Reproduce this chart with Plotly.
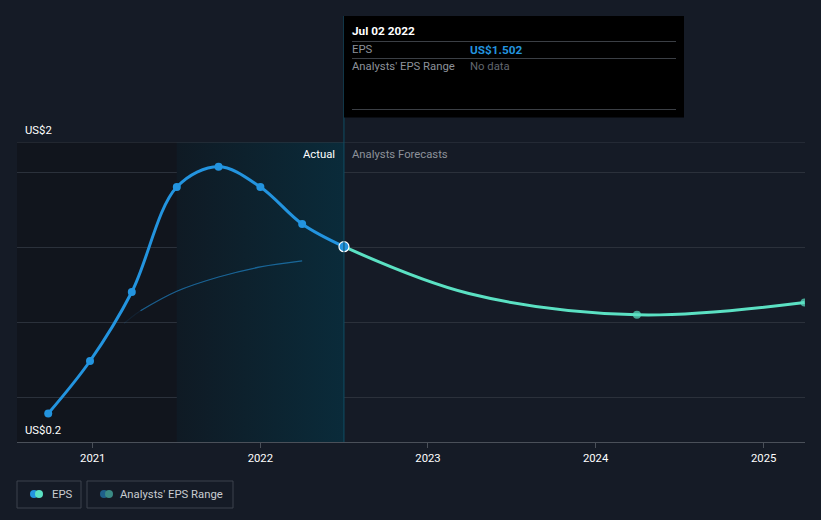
import plotly.graph_objects as go

# ---- data ----
actual_dates = ["2020-09-26", "2020-12-26", "2021-03-27", "2021-07-03",
                "2021-10-02", "2022-01-01", "2022-04-02", "2022-07-02"]
actual_eps = [0.39, 0.74, 1.20, 1.90, 2.035, 1.90, 1.653, 1.502]

forecast_dates = ["2022-07-02", "2023-03-31", "2024-03-31", "2025-03-31"]
forecast_eps = [1.502, 1.19, 1.048, 1.13]
forecast_marker = [0, 0, 8, 8]

past_est_dates = ["2021-03-10", "2021-04-15", "2021-07-03", "2021-10-02", "2022-01-01", "2022-04-02"]
past_est_eps = [0.99, 1.075, 1.205, 1.30, 1.367, 1.407]

x_range = ["2020-07-20", "2025-04-01"]
y_range = [0.2, 2.2]
grid_vals = [0.5, 1.0, 1.5, 2.0]
tick_years = ["2021-01-01", "2022-01-01", "2023-01-01", "2024-01-01", "2025-01-01"]
tick_text = ["2021", "2022", "2023", "2024", "2025"]
shade_start = "2021-07-03"
today = "2022-07-02"

BG = "#151b26"
BLUE = "#2394df"
TEAL = "#5be1c3"
FONT = "Roboto"
FS = 11.3

fig = go.Figure()

# dark past region
fig.add_shape(type="rect", xref="x", yref="y", x0=x_range[0], x1=shade_start,
              y0=y_range[0], y1=y_range[1], fillcolor="#11151d", line_width=0, layer="below")

# gradient shaded region
fig.add_trace(go.Scatter(
    x=[shade_start, today, today, shade_start, shade_start],
    y=[y_range[0], y_range[0], y_range[1], y_range[1], y_range[0]],
    mode="lines", line=dict(width=0), fill="toself",
    fillgradient=dict(type="horizontal",
                      colorscale=[[0, "#0f1a24"], [1, "#0a2b3a"]]),
    hoverinfo="skip", showlegend=False))

# past estimates faint line
fig.add_trace(go.Scatter(x=past_est_dates, y=past_est_eps, mode="lines",
                         line=dict(color="rgba(35,148,223,0.1)", width=1.2, shape="spline"),
                         hoverinfo="skip", showlegend=False))
fig.add_trace(go.Scatter(x=past_est_dates[1:], y=past_est_eps[1:], mode="lines",
                         line=dict(color="rgba(35,148,223,0.55)", width=1.3, shape="spline"),
                         hoverinfo="skip", showlegend=False))

# forecast
fig.add_trace(go.Scatter(x=forecast_dates, y=forecast_eps, mode="lines+markers",
                         line=dict(color=TEAL, width=3, shape="spline"),
                         marker=dict(size=forecast_marker, color=TEAL, line=dict(width=0)),
                         showlegend=False))

# actual
fig.add_trace(go.Scatter(x=actual_dates, y=actual_eps, mode="lines+markers",
                         line=dict(color=BLUE, width=3, shape="spline"),
                         marker=dict(size=8, color=BLUE, line=dict(width=0)),
                         showlegend=False))
fig.add_trace(go.Scatter(x=actual_dates[-1:], y=actual_eps[-1:], mode="markers",
                         marker=dict(size=10, color=BLUE, line=dict(color="white", width=1.2)),
                         showlegend=False))

# top line
fig.add_shape(type="line", xref="paper", yref="y", x0=0, x1=1, y0=y_range[1], y1=y_range[1],
              line=dict(color="#343a44", width=1))

# vertical today line
fig.add_shape(type="line", xref="x", yref="paper", x0=today, x1=today, y0=0, y1=1.42,
              line=dict(color="#0f4d63", width=1))


def px_x(p):
    return (p - 17) / (805 - 17)


def px_y(p):
    return (442 - p) / 300


# tooltip box
fig.add_shape(type="rect", xref="paper", yref="paper", x0=px_x(344), x1=px_x(684),
              y0=px_y(117.5), y1=px_y(16), fillcolor="#000000", line_width=0)
for yy in [41.5, 58.5, 109.5]:
    fig.add_shape(type="line", xref="paper", yref="paper", x0=px_x(352), x1=px_x(676),
                  y0=px_y(yy), y1=px_y(yy), line=dict(color="#3b3f45", width=1))

annotations = [
    dict(x=px_x(350), y=px_y(31), text="<b>Jul 02 2022</b>", font=dict(color="#ffffff", size=FS + 0.5)),
    dict(x=px_x(350), y=px_y(49.5), text="EPS", font=dict(color="#8d929a", size=FS)),
    dict(x=px_x(468), y=px_y(49.5), text="<b>US$1.502</b>", font=dict(color=BLUE, size=FS + 0.5)),
    dict(x=px_x(350), y=px_y(66.5), text="Analysts' EPS Range", font=dict(color="#8d929a", size=FS)),
    dict(x=px_x(468), y=px_y(66.5), text="No data", font=dict(color="#62676f", size=FS)),
    dict(x=px_x(23), y=px_y(130), text="US$2", font=dict(color="#ffffff", size=FS)),
    dict(x=px_x(23), y=px_y(430), text="US$0.2", font=dict(color="#ffffff", size=FS)),
    dict(x=px_x(350), y=px_y(154.5), text="Analysts Forecasts", font=dict(color="#8d929a", size=FS)),
    dict(x=px_x(50), y=px_y(494), text="EPS", font=dict(color="#c9ccd1", size=FS)),
    dict(x=px_x(118), y=px_y(494), text="Analysts' EPS Range", font=dict(color="#c9ccd1", size=FS)),
]
for a in annotations:
    a.update(xref="paper", yref="paper", xanchor="left", yanchor="middle", showarrow=False)
fig.add_annotation(xref="paper", yref="paper", x=px_x(337), y=px_y(154.5), text="Actual",
                   xanchor="right", yanchor="middle", showarrow=False,
                   font=dict(color="#ffffff", size=FS))
for a in annotations:
    fig.add_annotation(**a)

# legend boxes
for x0, x1 in [(17, 81), (87, 233)]:
    fig.add_shape(type="rect", xref="paper", yref="paper", x0=px_x(x0), x1=px_x(x1),
                  y0=px_y(508), y1=px_y(481), line=dict(color="#3d434c", width=1),
                  fillcolor="rgba(0,0,0,0)")
for cx, col in [(34, BLUE), (39, TEAL), (104, "#1e5f8a"), (109, "#3a8a84")]:
    fig.add_shape(type="circle", xref="paper", yref="paper", x0=px_x(cx - 4), x1=px_x(cx + 4),
                  y0=px_y(498), y1=px_y(490), fillcolor=col, line_width=0)

fig.update_layout(
    width=821, height=520,
    margin=dict(l=17, r=16, t=142, b=78),
    paper_bgcolor=BG, plot_bgcolor=BG,
    font=dict(family=FONT, color="#ffffff", size=FS),
    xaxis=dict(range=x_range, type="date", tickvals=tick_years, ticktext=tick_text,
               showgrid=False, zeroline=False, showline=True, linecolor="#4a5059",
               ticks="outside", ticklen=5, tickcolor="#4a5059",
               tickfont=dict(color="#ffffff", size=FS)),
    yaxis=dict(range=y_range, tickvals=grid_vals, showticklabels=False,
               showgrid=True, gridcolor="#2b313b", zeroline=False, showline=False),
    showlegend=False,
    hovermode=False,
)

fig.write_html("out.html", config={"displayModeBar": False},
               post_script="document.body.style.margin='0';document.body.style.background='" + BG + "';")
